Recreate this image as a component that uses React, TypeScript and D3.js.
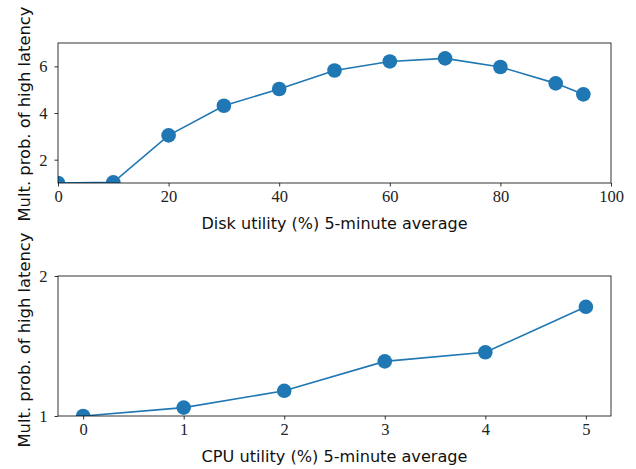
import React, { useEffect, useRef } from "react";
import * as d3 from "d3";

const diskX = [0, 10, 20, 30, 40, 50, 60, 70, 80, 90, 95];
const diskY = [1.0, 1.03, 3.04, 4.31, 5.03, 5.82, 6.21, 6.34, 5.97, 5.27, 4.8];
const diskTicksX = [0, 20, 40, 60, 80, 100];
const diskTicksY = [2, 4, 6];

const cpuX = [0, 1, 2, 3, 4, 5];
const cpuY = [1.0, 1.06, 1.18, 1.39, 1.455, 1.78];
const cpuTicksX = [0, 1, 2, 3, 4, 5];
const cpuTicksY = [1, 2];

const yLabel = "Mult. prob. of high latency";
const diskLabel = "Disk utility (%) 5-minute average";
const cpuLabel = "CPU utility (%) 5-minute average";

const BLUE = "#1f77b4";
const SERIF = "Liberation Serif";
const SANS = "DejaVu Sans";

export default function App() {
  const ref = useRef<SVGSVGElement>(null);

  useEffect(() => {
    const svg = d3.select(ref.current);
    svg.selectAll("*").remove();

    const left = 58;
    const right = 611;

    function panel(opts: any) {
      const { id, xs, ys, xDomain, yDomain, top, bottom, xTicks, yTicks, xLabel, xLen, yShift } = opts;
      const x = d3.scaleLinear().domain(xDomain).range([left, right]);
      const y = d3.scaleLinear().domain(yDomain).range([bottom, top]);

      svg
        .append("clipPath")
        .attr("id", id)
        .append("rect")
        .attr("x", left)
        .attr("y", top)
        .attr("width", right - left)
        .attr("height", bottom - top);

      const g = svg.append("g").attr("clip-path", `url(#${id})`);
      const line = d3
        .line<number>()
        .x((d, i) => x(xs[i]))
        .y((d) => y(d));
      g.append("path")
        .datum(ys)
        .attr("d", line)
        .attr("fill", "none")
        .attr("stroke", BLUE)
        .attr("stroke-width", 1.6);
      g.selectAll("circle")
        .data(ys)
        .enter()
        .append("circle")
        .attr("cx", (d, i) => x(xs[i]))
        .attr("cy", (d) => y(d))
        .attr("r", 7.3)
        .attr("fill", BLUE);

      // axes
      const xAxis = svg
        .append("g")
        .attr("transform", `translate(0,${bottom})`)
        .call(d3.axisBottom(x).tickValues(xTicks).tickSize(3.5).tickPadding(4).tickFormat(d3.format("d")));
      const yAxis = svg
        .append("g")
        .attr("transform", `translate(${left},0)`)
        .call(d3.axisLeft(y).tickValues(yTicks).tickSize(3.5).tickPadding(7).tickFormat(d3.format("d")));
      [xAxis, yAxis].forEach((a) => {
        a.attr("font-family", SERIF).attr("font-size", 16.5);
        a.select(".domain").remove();
        a.selectAll("line").attr("stroke", "#000").attr("stroke-width", 0.8);
        a.selectAll("text").attr("font-family", SERIF).attr("font-size", 16.5).attr("fill", "#222");
      });
      yAxis.selectAll("text").attr("dy", "0.34em");

      svg
        .append("rect")
        .attr("x", left)
        .attr("y", top)
        .attr("width", right - left)
        .attr("height", bottom - top)
        .attr("fill", "none")
        .attr("stroke", "#000")
        .attr("stroke-width", 0.8);

      svg
        .append("text")
        .attr("x", (left + right) / 2)
        .attr("y", bottom + 46)
        .attr("text-anchor", "middle")
        .attr("textLength", xLen)
        .attr("lengthAdjust", "spacingAndGlyphs")
        .attr("font-family", SANS)
        .attr("font-size", 15)
        .attr("fill", "#111")
        .text(xLabel);

      svg
        .append("text")
        .attr("transform", `translate(30,${(top + bottom) / 2 + yShift}) rotate(-90)`)
        .attr("text-anchor", "middle")
        .attr("textLength", 215)
        .attr("lengthAdjust", "spacingAndGlyphs")
        .attr("font-family", SANS)
        .attr("font-size", 15)
        .attr("fill", "#111")
        .text(yLabel);
    }

    panel({
      id: "clipDisk",
      xs: diskX,
      ys: diskY,
      xDomain: [0, 100],
      yDomain: [1, 7],
      top: 43,
      bottom: 183,
      xTicks: diskTicksX,
      yTicks: diskTicksY,
      xLabel: diskLabel,
      xLen: 266,
      yShift: 1,
    });
    panel({
      id: "clipCpu",
      xs: cpuX,
      ys: cpuY,
      xDomain: [-0.25, 5.25],
      yDomain: [1, 2],
      top: 276,
      bottom: 416,
      xTicks: cpuTicksX,
      yTicks: cpuTicksY,
      xLabel: cpuLabel,
      xLen: 266,
      yShift: -6,
    });
  }, []);

  return (
    <svg
      ref={ref}
      width={636}
      height={469}
      style={{ position: "absolute", left: 0, top: 0, background: "#fff" }}
    />
  );
}
